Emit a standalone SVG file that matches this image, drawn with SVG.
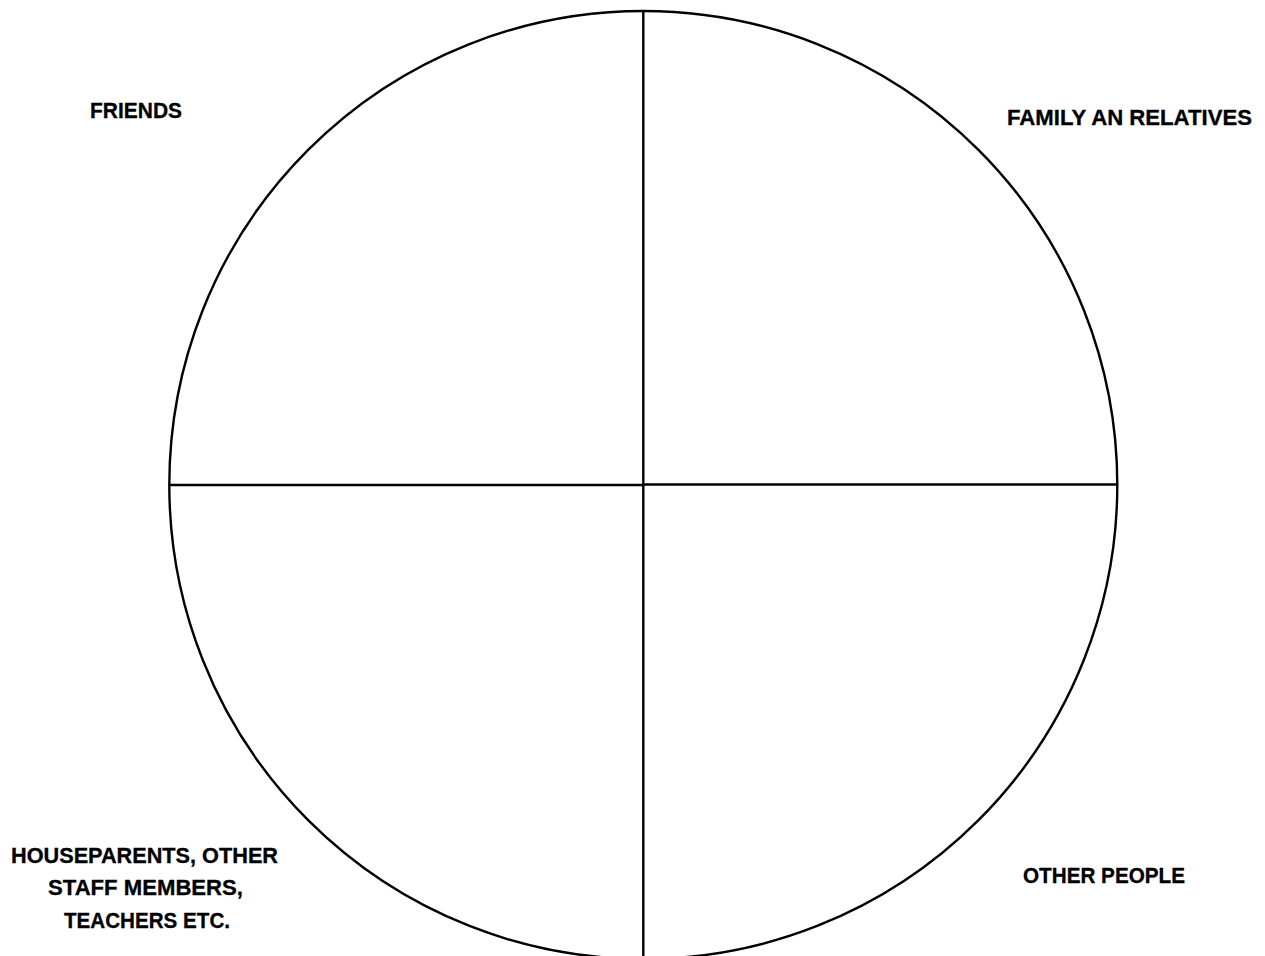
<svg xmlns="http://www.w3.org/2000/svg" width="1265" height="956" viewBox="0 0 1265 956">
<style>
.ln{stroke:#000;stroke-width:2.4;fill:none}
.t{font-family:"Liberation Sans",Arial,sans-serif;font-weight:bold;font-size:21.5px;fill:#000;stroke:#000;stroke-width:0.3}
</style>
<rect width="1265" height="956" fill="#fff"/>
<g id="circle"><circle class="ln" cx="643.3" cy="485" r="474"/></g>
<g id="connectors">
<line class="ln" x1="643.3" y1="11" x2="643.3" y2="956"/>
<line class="ln" x1="169" y1="485" x2="643.3" y2="485"/>
<line class="ln" x1="643.3" y1="484.5" x2="1117" y2="484.5"/>
</g>
<g id="friends"><text class="t" x="90" y="118" textLength="92" lengthAdjust="spacingAndGlyphs">FRIENDS</text></g>
<g id="family"><text class="t" x="1007" y="125" textLength="245" lengthAdjust="spacingAndGlyphs">FAMILY AN RELATIVES</text></g>
<g id="houseparents">
<text class="t" x="11" y="863" textLength="267" lengthAdjust="spacingAndGlyphs">HOUSEPARENTS, OTHER</text>
<text class="t" x="48" y="895" textLength="195" lengthAdjust="spacingAndGlyphs">STAFF MEMBERS,</text>
<text class="t" x="64" y="928" textLength="166" lengthAdjust="spacingAndGlyphs">TEACHERS ETC.</text>
</g>
<g id="other"><text class="t" x="1023" y="883" textLength="162" lengthAdjust="spacingAndGlyphs">OTHER PEOPLE</text></g>
</svg>
